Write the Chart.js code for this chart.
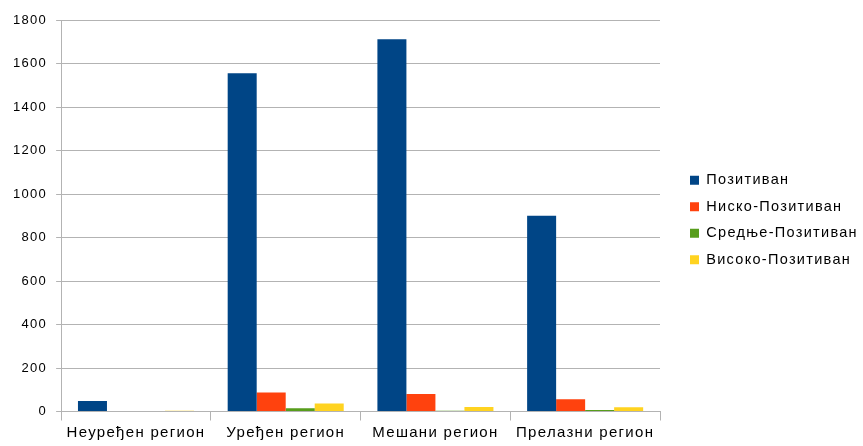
<!DOCTYPE html>
<html>
<head>
<meta charset="utf-8">
<script src="https://cdn.jsdelivr.net/npm/chart.js@4/dist/chart.umd.min.js"></script>
<style>
  html, body { margin: 0; padding: 0; background: #fff; }
  #wrap { width: 863px; height: 446px; }
</style>
</head>
<body>
<div id="wrap"><canvas id="graf"></canvas></div>
<script>
// Региони и вредности по категоријама
const regioni = ["Неуређен регион", "Уређен регион", "Мешани регион", "Прелазни регион"];
const pozitivan = [48, 1555, 1712, 900];
const niskoPozitivan = [2, 87, 80, 56];
const srednjePozitivan = [0, 15, 3, 7];
const visokoPozitivan = [3, 37, 21, 20];
const yTicks = [0, 200, 400, 600, 800, 1000, 1200, 1400, 1600, 1800];

const boje = ["#004586", "#ff420e", "#579d1c", "#ffd320"];
const nazivi = ["Позитиван", "Ниско-Позитиван", "Средње-Позитиван", "Високо-Позитиван"];
const serije = [pozitivan, niskoPozitivan, srednjePozitivan, visokoPozitivan];

Chart.defaults.font.family = "'Liberation Sans', Arial, sans-serif";
Chart.defaults.color = "#000";

// размак између слова (канвас се ресетује при промени величине)
const razmakSlova = {
  id: "razmakSlova",
  beforeLayout(chart) { chart.ctx.letterSpacing = "1.3px"; },
  beforeDraw(chart) { chart.ctx.letterSpacing = "1.3px"; }
};

// легенда фиксне ширине, ставке мало удесно и навише
const LEGENDA_SIRINA = 203;
const LEGENDA_RAZMAK = 18;
const LEGENDA_GORE = 13;
const legendaPomak = {
  id: "legendaPomak",
  afterInit(chart) {
    const leg = chart.legend;
    const fit = leg.fit;
    leg.fit = function () { fit.call(this); this.width = LEGENDA_SIRINA; };
  },
  afterLayout(chart) {
    const leg = chart.legend;
    leg.left += LEGENDA_RAZMAK;
    leg.right += LEGENDA_RAZMAK;
    leg.top -= LEGENDA_GORE;
    leg.bottom -= LEGENDA_GORE;
  }
};

const ctx = document.getElementById("graf").getContext("2d");
new Chart(ctx, {
  type: "bar",
  data: {
    labels: regioni,
    datasets: serije.map((s, i) => ({
      label: nazivi[i],
      data: s,
      backgroundColor: boje[i],
      borderWidth: 0,
      categoryPercentage: 0.775,
      barPercentage: 1.0
    }))
  },
  options: {
    responsive: true,
    maintainAspectRatio: false,
    animation: false,
    layout: { padding: { top: 20, right: 0, left: 4, bottom: 0 } },
    plugins: {
      tooltip: { enabled: false },
      legend: {
        position: "right",
        labels: {
          boxWidth: 9,
          boxHeight: 9,
          padding: 12,
          font: { size: 14.5 }
        }
      }
    },
    scales: {
      x: {
        grid: {
          offset: true,
          drawOnChartArea: false,
          drawTicks: true,
          tickLength: 9,
          color: "#b3b3b3"
        },
        border: { color: "#b3b3b3" },
        ticks: { font: { size: 15, lineHeight: 0.5 }, padding: 9, maxRotation: 0 }
      },
      y: {
        min: 0,
        max: 1800,
        afterBuildTicks: (axis) => { axis.ticks = yTicks.map(v => ({ value: v })); },
        grid: { color: "#b3b3b3", tickLength: 5 },
        border: { color: "#b3b3b3" },
        ticks: { font: { size: 13 }, padding: 9, callback: (v) => String(v) }
      }
    }
  },
  plugins: [razmakSlova, legendaPomak]
});
</script>
</body>
</html>
